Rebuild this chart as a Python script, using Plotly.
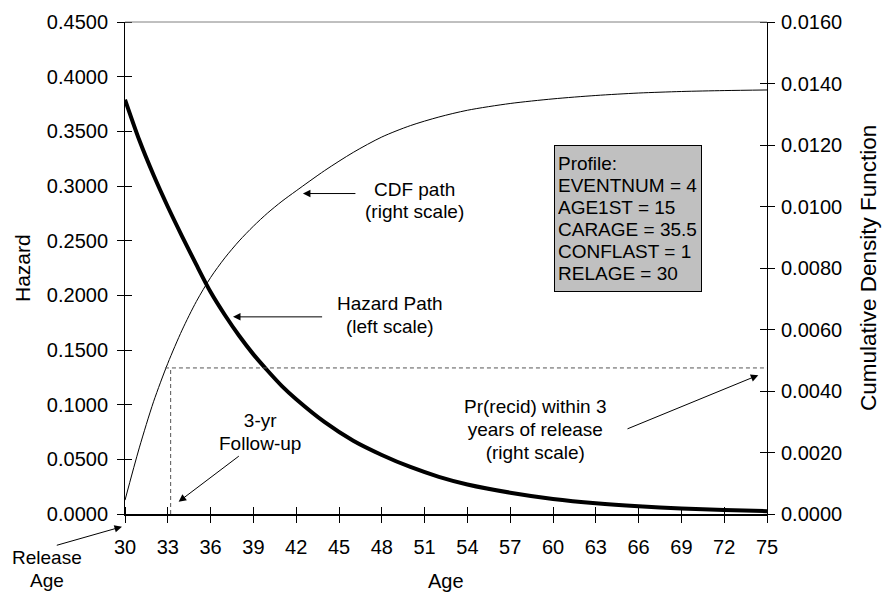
import plotly.graph_objects as go

# ---------------- data ----------------
ages = [30, 31, 32, 33, 34, 35, 36, 37, 38, 39, 40, 41, 42, 44, 46, 48, 50,
        52, 54, 57, 60, 63, 66, 69, 72, 75]
hazard = [0.379, 0.342, 0.310, 0.281, 0.254, 0.228, 0.203, 0.182, 0.163,
          0.146, 0.131, 0.117, 0.105, 0.084, 0.067, 0.054, 0.043, 0.034,
          0.027, 0.0195, 0.0138, 0.0098, 0.0070, 0.0050, 0.0036, 0.0026]
cdf = [0.00045, 0.00215, 0.00365, 0.00490, 0.00598, 0.00691, 0.00769,
       0.00833, 0.00888, 0.00936, 0.00979, 0.01017, 0.01051, 0.01117,
       0.01176, 0.01226, 0.01263, 0.01291, 0.01313, 0.01335, 0.01350,
       0.01361, 0.01369, 0.01374, 0.01377, 0.01379]

follow_up_age = 33.2
cdf_hit_age = 32.8
pr_recid_3yr = 0.00475

x_range = [30, 75]
x_ticks = list(range(30, 76, 3))
hazard_range = [0, 0.45]
hazard_dtick = 0.05
cdf_range = [0, 0.016]
cdf_dtick = 0.002

profile_lines = ["Profile:", "EVENTNUM = 4", "AGE1ST = 15", "CARAGE = 35.5",
                 "CONFLAST = 1", "RELAGE = 30"]

FONT = "Liberation Sans, Arial, Helvetica, sans-serif"
FS = 19


def lines(items, size=FS):
    return "<br>".join(f'<span style="font-size:{size}px">{t}</span>' for t in items)


fig = go.Figure()

fig.add_trace(go.Scatter(x=ages, y=cdf, yaxis="y2", mode="lines",
                         line=dict(color="black", width=1, shape="spline", smoothing=0.8),
                         showlegend=False, hoverinfo="skip"))
fig.add_trace(go.Scatter(x=ages, y=hazard, mode="lines",
                         line=dict(color="black", width=4, shape="spline", smoothing=0.8),
                         showlegend=False, hoverinfo="skip"))
fig.add_trace(go.Scatter(x=[cdf_hit_age, x_range[1]], y=[pr_recid_3yr, pr_recid_3yr],
                         yaxis="y2", mode="lines",
                         line=dict(color="#555555", width=1, dash="4px,3px"),
                         showlegend=False, hoverinfo="skip"))
fig.add_trace(go.Scatter(x=[follow_up_age, follow_up_age], y=[0, pr_recid_3yr],
                         yaxis="y2", mode="lines",
                         line=dict(color="#555555", width=1, dash="4px,3px"),
                         showlegend=False, hoverinfo="skip"))

tickfont = dict(family=FONT, size=20, color="black")
common = dict(showgrid=False, zeroline=False, tickcolor="black", tickwidth=1,
              ticklen=7, ticks="outside")


def inner_minor(**kw):
    return dict(ticks="inside", ticklen=7, tickcolor="black", tickwidth=1,
                showgrid=False, **kw)


fig.update_layout(
    width=882, height=592,
    margin=dict(l=125, r=115, t=22, b=78),
    paper_bgcolor="white", plot_bgcolor="white",
    font=dict(family=FONT, size=FS, color="black"),
    showlegend=False,
    xaxis=dict(range=x_range, tickmode="array", tickvals=x_ticks,
               showline=True, linecolor="black", linewidth=2, tickfont=tickfont,
               ticklabelstandoff=7,
               minor=inner_minor(tickmode="array", tickvals=x_ticks), **common),
    yaxis=dict(range=hazard_range, tick0=0, dtick=hazard_dtick, tickformat=".4f",
               showline=True, linecolor="black", linewidth=1,
               tickfont=tickfont, ticklabelstandoff=5,
               minor=inner_minor(tick0=0, dtick=hazard_dtick), **common),
    yaxis2=dict(range=cdf_range, tick0=0, dtick=cdf_dtick, tickformat=".4f",
                overlaying="y", side="right", anchor="x",
                showline=True, linecolor="black", linewidth=1,
                tickfont=tickfont, ticklabelstandoff=2,
                minor=inner_minor(tick0=0, dtick=cdf_dtick), **common),
)

# top border of the plot frame
fig.add_shape(type="line", xref="paper", yref="paper", x0=0, x1=1, y0=1, y1=1,
              line=dict(color="#808080", width=1))

ann = []
# axis titles
ann.append(dict(text="Hazard", xref="paper", yref="paper", x=-0.1604, y=0.5,
                textangle=-90, showarrow=False, xanchor="center", yanchor="middle",
                font=dict(size=21)))
ann.append(dict(text="Cumulative Density Function", xref="paper", yref="paper",
                x=1.1575, y=0.5, textangle=-90, showarrow=False,
                xanchor="center", yanchor="middle", font=dict(size=22.5)))
ann.append(dict(text="Age", xref="paper", yref="paper", x=0.5, y=-0.137,
                showarrow=False, xanchor="center", yanchor="middle",
                font=dict(size=20)))

# text labels
ann.append(dict(text=lines(["CDF path", "(right scale)"]), x=50.27, y=0.2865,
                showarrow=False, xanchor="center", yanchor="middle",
                font=dict(size=17.2)))
ann.append(dict(text=lines(["Hazard Path", "(left scale)"]), x=48.57, y=0.1819,
                showarrow=False, xanchor="center", yanchor="middle",
                font=dict(size=18)))
ann.append(dict(text=lines(["3-yr", "Follow-up"]), x=39.48, y=0.0752,
                showarrow=False, xanchor="center", yanchor="middle",
                font=dict(size=18)))
ann.append(dict(text=lines(["Pr(recid) within 3", "years of release", "(right scale)"]),
                x=58.79, y=0.0772, showarrow=False, xanchor="center",
                yanchor="middle", font=dict(size=17.8)))
ann.append(dict(text=lines(["Release", "Age"]), xref="paper", yref="paper",
                x=-0.1214, y=-0.1110, showarrow=False, xanchor="center",
                yanchor="middle", font=dict(size=17.5)))
ann.append(dict(text=lines(profile_lines), x=65.23, y=0.2706, showarrow=False,
                xanchor="center", yanchor="middle", align="left",
                bgcolor="#c0c0c0", bordercolor="black", borderwidth=1,
                borderpad=3, width=140, height=139, font=dict(size=16.8)))

# arrows
arrow_style = dict(text="", showarrow=True, arrowhead=2, arrowsize=1.5,
                   arrowwidth=1, arrowcolor="black", standoff=0, startstandoff=0)
ann.append(dict(x=42.47, y=0.2931, ax=54, ay=0, **arrow_style))
ann.append(dict(x=37.57, y=0.1803, ax=90.6, ay=0, **arrow_style))
ann.append(dict(x=33.76, y=0.01124, ax=61.7, ay=-46.7, **arrow_style))
ann.append(dict(x=74.39, y=0.1270, ax=-132.3, ay=54.3, **arrow_style))
ann.append(dict(xref="paper", yref="paper", x=-0.0047, y=-0.0258, ax=-66.7, ay=19,
                **arrow_style))

fig.update_layout(annotations=ann)

fig.write_html("out.html")
